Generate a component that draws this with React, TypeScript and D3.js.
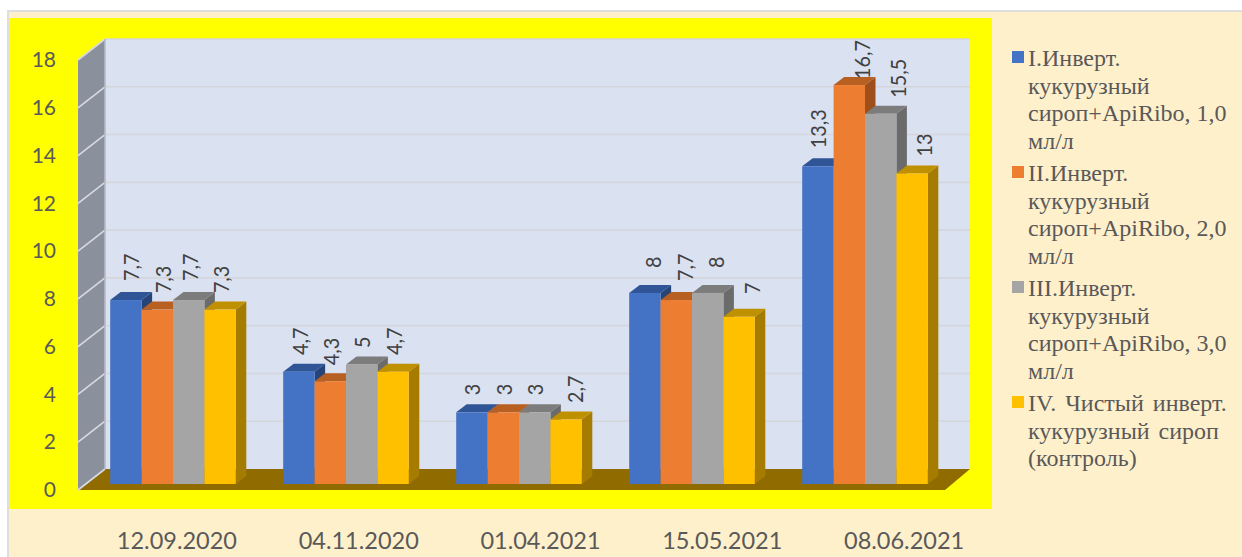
import React, { useEffect, useRef } from "react";
import * as d3 from "d3";

const dates = ["12.09.2020", "04.11.2020", "01.04.2021", "15.05.2021", "08.06.2021"];
const seriesNames = ["I", "II", "III", "IV"];
const seriesI = [7.7, 4.7, 3, 8, 13.3];
const seriesII = [7.3, 4.3, 3, 7.7, 16.7];
const seriesIII = [7.7, 5, 3, 8, 15.5];
const seriesIV = [7.3, 4.7, 2.7, 7, 13];
const seriesValues = [seriesI, seriesII, seriesIII, seriesIV];
const yTicks = [0, 2, 4, 6, 8, 10, 12, 14, 16, 18];
const legendLines = [
  ["I.Инверт.", "кукурузный", "сироп+ApiRibo, 1,0", "мл/л"],
  ["II.Инверт.", "кукурузный", "сироп+ApiRibo, 2,0", "мл/л"],
  ["III.Инверт.", "кукурузный", "сироп+ApiRibo, 3,0", "мл/л"],
  ["IV. Чистый инверт.", "кукурузный сироп", "(контроль)"]
];

const colors = ["#4472C4", "#ED7D31", "#A5A5A5", "#FFC000"];
const topColors = ["#2F5597", "#B85F22", "#7C7C7C", "#BF9000"];
const sideColors = ["#264478", "#9E4F1B", "#6B6B6B", "#A67C00"];

// the data labels sit unevenly in the original: shift from bar centre and gap above bar top,
// one row per date, one column per series
const labelShift = [
  [5, 6, 1.5, 1],
  [1, 1, 0.5, 1],
  [0, 1, 0.5, 9],
  [8, 9, 8.5, 13],
  [0, 13, 17.5, 12]
];
const labelGap = [
  [19, 16.5, 19, 16.5],
  [16.7, 16, 16.5, 16.7],
  [17, 17, 17, 16.5],
  [25, 19, 25, 22.7],
  [18, 6, 16, 17]
];

export default function App() {
  const ref = useRef<SVGSVGElement>(null);

  useEffect(() => {
    const svg = d3.select(ref.current);
    svg.selectAll("*").remove();

    const depthX = 27;
    const barDx = 10.5;
    const barDy = 8;

    // value scales for the front edge, the back wall and the bars
    const yFront = d3.scaleLinear().domain([0, 18]).range([490, 60]);
    const yBack = d3.scaleLinear().domain([0, 18]).range([469, 39]);
    const yBar = d3.scaleLinear().domain([0, 18]).range([484, 54]);

    const x0 = d3.scaleBand().domain(dates).range([86.5, 951.5]).paddingInner(0.274).paddingOuter(0.137);
    const x1 = d3.scaleBand().domain(seriesNames).range([0, x0.bandwidth()]);
    const xLabels = d3.scaleBand().domain(dates).range([86, 995]);

    // backgrounds
    svg.append("rect").attr("x", 7).attr("y", 10).attr("width", 1235).attr("height", 547).attr("fill", "#DEDEDE");
    svg.append("rect").attr("x", 9).attr("y", 12).attr("width", 1233).attr("height", 545).attr("fill", "#FFF0CC");
    svg.append("rect").attr("x", 9).attr("y", 18).attr("width", 983).attr("height", 491).attr("fill", "#FFFF00");

    const left = 78;
    const right = 945;

    // back wall
    svg.append("rect")
      .attr("x", left + depthX)
      .attr("y", yBack(18))
      .attr("width", right - left - 2)
      .attr("height", yBack(0) - yBack(18))
      .attr("fill", "#DAE1F1");

    // left wall
    svg.append("polygon")
      .attr("points", [
        [left, yFront(18)],
        [left + depthX, yBack(18)],
        [left + depthX, yBack(0)],
        [left, yFront(0)]
      ].join(" "))
      .attr("fill", "#8A919C");

    // floor
    svg.append("polygon")
      .attr("points", [
        [left, yFront(0)],
        [left + depthX, yBack(0)],
        [right + 25, yBack(0)],
        [right, yFront(0)]
      ].join(" "))
      .attr("fill", "#8F6B00");

    // gridlines on both walls
    const grid = svg.append("g").attr("fill", "none").attr("stroke-width", 1.6);
    yTicks.forEach(t => {
      grid.append("path")
        .attr("d", `M${left},${yFront(t)}L${left + depthX},${yBack(t)}`)
        .attr("stroke", "#D6DAE2");
      if (t > 0) {
        grid.append("path")
          .attr("d", `M${left + depthX},${yBack(t)}H${right + 25}`)
          .attr("stroke", "#D4D6DC");
      }
    });
    grid.append("path")
      .attr("d", `M${left + depthX},${yBack(18)}V${yBack(0)}`)
      .attr("stroke", "#B4BAC6");

    // y axis labels
    const yAxis = svg.append("g")
      .attr("transform", "translate(56,0)")
      .call(d3.axisLeft(yFront).tickValues(yTicks).tickSize(0).tickPadding(0).tickFormat(d3.format("d")));
    yAxis.select(".domain").remove();
    yAxis.selectAll("text")
      .attr("fill", "#595959")
      .style("font-family", "Lato")
      .style("font-size", "21px");

    // x axis labels
    const xAxis = svg.append("g")
      .attr("transform", "translate(0,532)")
      .call(d3.axisBottom(xLabels).tickSize(0).tickPadding(0));
    xAxis.select(".domain").remove();
    xAxis.selectAll("text")
      .attr("fill", "#595959")
      .style("font-family", "Lato")
      .style("font-size", "23.5px");

    // bars, left to right so each one covers the side of the previous one
    dates.forEach((date, di) => {
      const g = svg.append("g");
      seriesValues.forEach((vals, si) => {
        const v = vals[di];
        const bx = x0(date)! + x1(seriesNames[si])!;
        const w = x1.bandwidth();
        const top = yBar(v);
        const base = yBar(0);
        g.append("polygon")
          .attr("points", [
            [bx + w, top],
            [bx + w + barDx, top - barDy],
            [bx + w + barDx, base - barDy],
            [bx + w, base]
          ].join(" "))
          .attr("fill", sideColors[si]);
        g.append("polygon")
          .attr("points", [
            [bx, top],
            [bx + barDx, top - barDy],
            [bx + w + barDx, top - barDy],
            [bx + w, top]
          ].join(" "))
          .attr("fill", topColors[si]);
        g.append("rect")
          .attr("x", bx)
          .attr("y", top)
          .attr("width", w)
          .attr("height", base - top)
          .attr("fill", colors[si]);
      });
    });

    // data labels go on top of all bars
    dates.forEach((date, di) => {
      seriesValues.forEach((vals, si) => {
        const v = vals[di];
        const cx = x0(date)! + x1(seriesNames[si])! + x1.bandwidth() / 2;
        svg.append("text")
          .attr("transform", `translate(${cx + labelShift[di][si] + 8},${yBar(v) - labelGap[di][si]}) rotate(-90) scale(0.9,1)`)
          .attr("fill", "#404040")
          .style("font-family", "Lato")
          .style("font-size", "22px")
          .text(String(v).replace(".", ","));
      });
    });

    // legend
    const lineHeight = 27.7;
    const blockStart = [58, 173, 288, 403];
    legendLines.forEach((lines, si) => {
      const g = svg.append("g").attr("transform", `translate(1012,${blockStart[si]})`);
      g.append("rect").attr("y", -7).attr("width", 12).attr("height", 12).attr("fill", colors[si]);
      lines.forEach((line, i) => {
        g.append("text")
          .attr("x", 16)
          .attr("y", i * lineHeight + 8)
          .attr("fill", "#595959")
          .style("font-family", "Liberation Serif")
          .style("font-size", "24px")
          .style("word-spacing", si === 3 ? "3px" : "0")
          .text(line);
      });
    });
  }, []);

  return (
    <svg
      ref={ref}
      width={1242}
      height={557}
      style={{ position: "absolute", left: 0, top: 0, display: "block" }}
    />
  );
}
